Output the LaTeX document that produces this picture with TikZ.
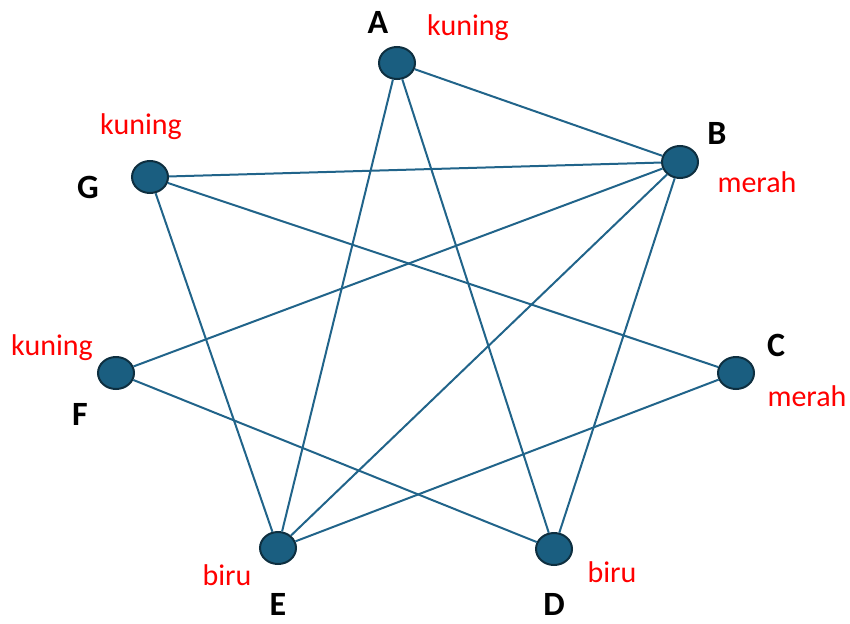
\documentclass[tikz,border=0pt]{standalone}
\usepackage{fontspec}
\setmainfont{Carlito}
\usetikzlibrary{shapes.geometric}
\begin{document}
\begin{tikzpicture}[x=1pt,y=-1pt,
  vtx/.style={ellipse,draw=vout,fill=vfill,line width=2pt,minimum width=36pt,minimum height=32pt,inner sep=0pt},
  edge/.style={draw=ecol,line width=2pt},
  lbl/.style={font=\fontsize{34}{36}\selectfont\bfseries,text=black,inner sep=0pt},
  col/.style={font=\fontsize{30}{32}\selectfont,text=red,inner sep=0pt}]
\definecolor{vfill}{HTML}{1A5E80}
\definecolor{vout}{HTML}{0E2F40}
\definecolor{ecol}{HTML}{21648A}
\useasboundingbox (0,0) rectangle (850,623);
\node[vtx] (A) at (397,63) {};
\node[vtx] (B) at (680,162) {};
\node[vtx] (C) at (736,373) {};
\node[vtx] (D) at (554,549) {};
\node[vtx] (E) at (278,548) {};
\node[vtx] (F) at (116,373) {};
\node[vtx] (G) at (150,177) {};
\draw[edge] (A) -- (B);
\draw[edge] (A) -- (E);
\draw[edge] (A) -- (D);
\draw[edge] (G) -- (B);
\draw[edge] (G) -- (C);
\draw[edge] (G) -- (E);
\draw[edge] (B) -- (F);
\draw[edge] (B) -- (E);
\draw[edge] (B) -- (D);
\draw[edge] (F) -- (D);
\draw[edge] (E) -- (C);
\node[lbl] (lA) at (378,22) {A};
\node[col] (cA) at (468,28) {kuning};
\node[lbl] (lB) at (717,133) {B};
\node[col] (cB) at (757,182) {merah};
\node[lbl] (lC) at (776,345) {C};
\node[col] (cC) at (807,396) {merah};
\node[lbl] (lD) at (554,604) {D};
\node[col] (cD) at (612,572) {biru};
\node[lbl] (lE) at (278,604) {E};
\node[col] (cE) at (227,575) {biru};
\node[lbl] (lF) at (80,414) {F};
\node[col] (cF) at (52,348) {kuning};
\node[lbl] (lG) at (88,187) {G};
\node[col] (cG) at (141,127) {kuning};
\end{tikzpicture}
\end{document}
